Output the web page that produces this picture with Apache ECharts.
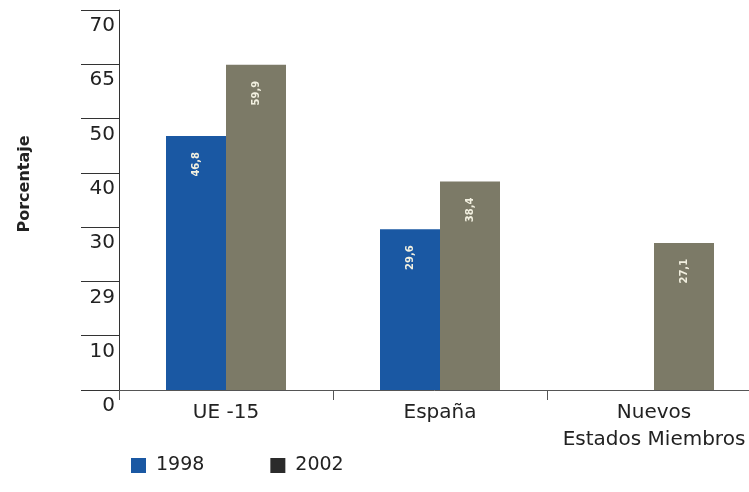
<!DOCTYPE html>
<html>
<head>
<meta charset="utf-8">
<script src="https://cdn.jsdelivr.net/npm/echarts@6/dist/echarts.min.js"></script>
<style>html,body{margin:0;padding:0;background:#fff}#c{width:749px;height:492px}</style>
</head>
<body>
<div id="c"></div>
<script>
var categories = ['UE -15', 'España', 'Nuevos\nEstados Miembros'];
var values1998 = [46.8, 29.6, null];
var values2002 = [59.9, 38.4, 27.1];
var yTickLabels = ['0', '10', '29', '30', '40', '50', '65', '70'];
var seriesNames = ['1998', '2002'];

var chart = echarts.init(document.getElementById('c'));
var font = 'DejaVu Sans, Verdana, sans-serif';
var barLabel = {
  show: true,
  position: 'insideTop',
  distance: 16,
  rotate: 90,
  align: 'right',
  verticalAlign: 'middle',
  color: '#f2f0e0',
  fontFamily: font,
  fontSize: 10,
  fontWeight: 'bold',
  formatter: function (p) { return String(p.value).replace('.', ','); }
};
chart.setOption({
  animation: false,
  backgroundColor: '#ffffff',
  grid: { left: 119, top: 10, right: -12, bottom: 102, containLabel: false, outerBoundsMode: 'none' },
  legend: {
    left: 126, top: 451,
    itemWidth: 15, itemHeight: 15, itemGap: 66,
    textStyle: { fontFamily: font, fontSize: 19, color: '#222', padding: [0, 0, 0, 5] },
    data: [
      { name: seriesNames[0], icon: 'rect', itemStyle: { color: '#1a58a3' } },
      { name: seriesNames[1], icon: 'rect', itemStyle: { color: '#2b2b2b' } }
    ]
  },
  xAxis: {
    type: 'category',
    data: categories,
    axisLine: { lineStyle: { color: '#555', width: 1 } },
    axisTick: { show: true, length: 10, lineStyle: { color: '#555' } },
    axisLabel: { margin: 9, fontFamily: font, fontSize: 20, color: '#222', lineHeight: 27, interval: 0 }
  },
  yAxis: {
    type: 'value',
    min: 0, max: 70, interval: 10,
    name: 'Porcentaje',
    nameLocation: 'middle',
    nameGap: 86,
    nameRotate: 90,
    nameTextStyle: { fontFamily: font, fontSize: 16, fontWeight: 'bold', color: '#222', padding: [0, 0, 0, 32] },
    axisLine: { show: true, lineStyle: { color: '#333', width: 1 } },
    axisTick: { show: true, length: 38, lineStyle: { color: '#333' } },
    splitLine: { show: false },
    axisLabel: {
      margin: 4,
      verticalAlign: 'top',
      padding: [6, 0, 0, 0],
      fontFamily: font, fontSize: 20, color: '#222',
      formatter: function (v) { return yTickLabels[Math.round(v / 10)]; }
    }
  },
  series: [
    { name: seriesNames[0], type: 'bar', data: values1998, barWidth: 60, barGap: '0%',
      itemStyle: { color: '#1a58a3' }, label: barLabel },
    { name: seriesNames[1], type: 'bar', data: values2002, barWidth: 60, barGap: '0%',
      itemStyle: { color: '#7c7a67' }, label: barLabel }
  ]
});
</script>
</body>
</html>
